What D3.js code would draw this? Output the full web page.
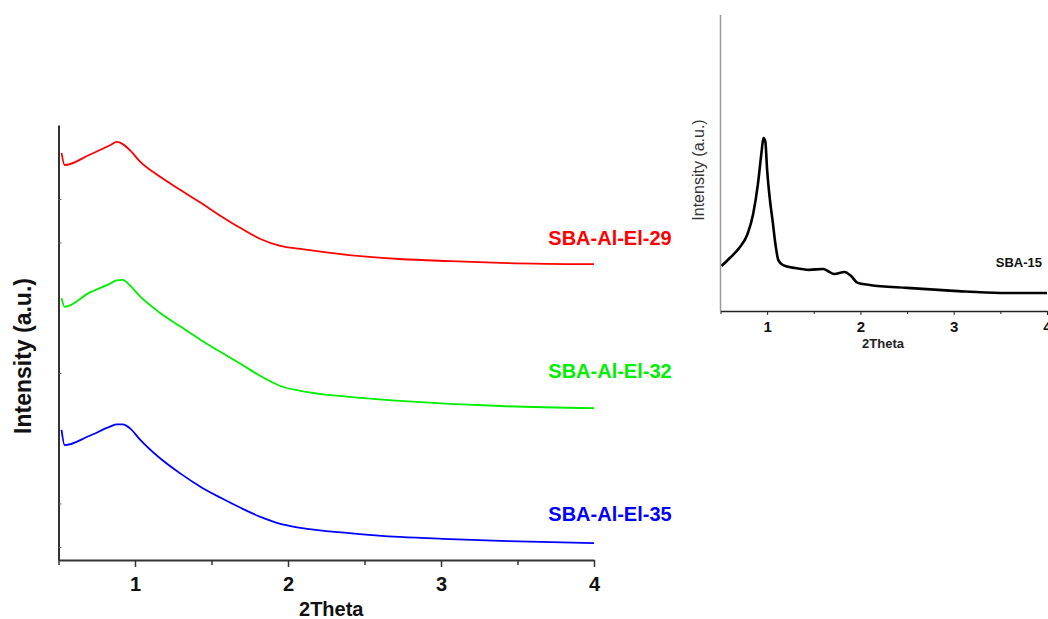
<!DOCTYPE html>
<html>
<head>
<meta charset="utf-8">
<script src="https://cdn.jsdelivr.net/npm/d3@7/dist/d3.min.js"></script>
<style>
  html, body { margin: 0; padding: 0; background: #fff; }
  svg { display: block; font-family: "Liberation Sans", Arial, Helvetica, sans-serif; }
</style>
</head>
<body>
<svg id="chart" width="1048" height="619"></svg>
<script>
// 2Theta positions shared by the three stacked patterns
const theta = [0.52, 0.54, 0.7, 0.84, 0.88, 0.92, 0.97, 1.03, 1.16, 1.3, 1.43, 1.56, 1.69, 1.82, 1.95, 2.08, 2.4, 2.73, 3.06, 3.39, 4.0];

// Stacked intensities (a.u., offset for display)
const ei29 = [9.36, 9.08, 9.31, 9.54, 9.61, 9.56, 9.41, 9.17, 8.82, 8.50, 8.21, 7.91, 7.63, 7.38, 7.22, 7.15, 7.01, 6.92, 6.87, 6.83, 6.80];
const ei32 = [6.02, 5.82, 6.14, 6.36, 6.43, 6.44, 6.30, 6.07, 5.69, 5.36, 5.06, 4.78, 4.51, 4.23, 4.00, 3.89, 3.75, 3.66, 3.59, 3.54, 3.49];
const ei35 = [2.99, 2.64, 2.85, 3.07, 3.12, 3.12, 3.02, 2.78, 2.35, 1.98, 1.68, 1.43, 1.20, 0.99, 0.83, 0.74, 0.62, 0.53, 0.48, 0.44, 0.39];

const seriesNames = ["SBA-Al-El-29", "SBA-Al-El-32", "SBA-Al-El-35"];
const seriesColors = ["#ff0000", "#00ee00", "#0000ff"];

// Parent SBA-15 pattern
const sbaTheta = [0.51, 0.6, 0.7, 0.79, 0.85, 0.9, 0.94, 0.96, 0.98, 1.0, 1.03, 1.06, 1.09, 1.12, 1.17, 1.3, 1.45, 1.6, 1.65, 1.72, 1.83, 1.9, 1.97, 2.1, 2.5, 3.0, 3.5, 4.0];
const sba15 = [1.52, 1.79, 2.13, 2.60, 3.28, 4.26, 5.37, 5.84, 5.74, 4.76, 3.75, 3.01, 2.23, 1.72, 1.55, 1.45, 1.39, 1.42, 1.35, 1.25, 1.32, 1.18, 0.95, 0.88, 0.78, 0.68, 0.61, 0.61];

const xMajor = [1, 2, 3, 4];
const xMinor = [0.5, 1.5, 2.5, 3.5];
const yTicks = [0.3, 1.3, 4.3, 7.3, 8.3];

const svg = d3.select("#chart");

// ---------- main panel ----------
const x = d3.scaleLinear().domain([0.5, 4]).range([58.5, 594]);
const y = d3.scaleLinear().domain([0, 10]).range([560, 125]);

const main = svg.append("g");

const line = d3.line().curve(d3.curveMonotoneX);
[ei29, ei32, ei35].forEach((ys, i) => {
  main.append("path")
    .attr("d", line(theta.map((t, j) => [x(t), y(ys[j])])))
    .attr("fill", "none")
    .attr("stroke", seriesColors[i])
    .attr("stroke-width", 1.8)
    .attr("stroke-linejoin", "round");
});

// axes
const axisColor = "#333";
const xAxis = main.append("g").attr("transform", `translate(0,${y(0)})`)
  .call(d3.axisBottom(x).tickValues(xMajor).tickSize(7).tickSizeOuter(0).tickFormat(d3.format("d")));
xAxis.select(".domain").attr("stroke", axisColor).attr("stroke-width", 2);
xAxis.selectAll(".tick line").attr("stroke", axisColor).attr("stroke-width", 1.5);
xAxis.selectAll(".tick text")
  .attr("fill", "#111").attr("font-size", 20).attr("font-weight", "bold").attr("dy", "1.05em");
const xMinorAxis = main.append("g").attr("transform", `translate(0,${y(0)})`)
  .call(d3.axisBottom(x).tickValues(xMinor).tickSize(5).tickFormat(""));
xMinorAxis.select(".domain").remove();
xMinorAxis.selectAll(".tick line").attr("stroke", axisColor).attr("stroke-width", 1.5);

const yAxis = main.append("g").attr("transform", `translate(${x(0.5)},0)`)
  .call(d3.axisRight(y).tickValues(yTicks).tickSize(3).tickSizeOuter(0).tickFormat(""));
yAxis.select(".domain").attr("stroke", axisColor).attr("stroke-width", 2);
yAxis.selectAll(".tick line").attr("stroke", "#666").attr("stroke-width", 1);

main.append("text")
  .attr("x", (x(0.5) + x(4)) / 2 + 5).attr("y", 616)
  .attr("text-anchor", "middle").attr("font-size", 20).attr("font-weight", "bold")
  .attr("fill", "#111").text("2Theta");

main.append("text")
  .attr("transform", "translate(31,356) rotate(-90)")
  .attr("text-anchor", "middle").attr("font-size", 23).attr("font-weight", "bold")
  .attr("fill", "#111").text("Intensity (a.u.)");

// sample labels beside each trace
const labelY = [245, 378, 521];
seriesNames.forEach((n, i) => {
  main.append("text")
    .attr("x", 610).attr("y", labelY[i])
    .attr("text-anchor", "middle").attr("font-size", 20).attr("font-weight", "bold")
    .attr("fill", seriesColors[i]).text(n);
});

// ---------- inset: SBA-15 ----------
const xi = d3.scaleLinear().domain([0.5, 4]).range([720.5, 1047]);
const yi = d3.scaleLinear().domain([0, 10]).range([311, 15]);
const inset = svg.append("g");

inset.append("path")
  .attr("d", d3.line().curve(d3.curveMonotoneX)(sbaTheta.map((t, j) => [xi(t), yi(sba15[j])])))
  .attr("fill", "none").attr("stroke", "#000").attr("stroke-width", 2.6)
  .attr("stroke-linejoin", "round");

inset.append("line")
  .attr("x1", xi(0.5)).attr("x2", xi(0.5)).attr("y1", yi(10)).attr("y2", yi(0))
  .attr("stroke", "#999").attr("stroke-width", 1.5);

const xiAxis = inset.append("g").attr("transform", `translate(0,${yi(0)})`)
  .call(d3.axisBottom(xi).tickValues(xMajor).tickSize(4).tickSizeOuter(0).tickFormat(d3.format("d")));
xiAxis.select(".domain").attr("stroke", "#222").attr("stroke-width", 1.5);
xiAxis.selectAll(".tick line").attr("stroke", "#222");
xiAxis.selectAll(".tick text")
  .attr("fill", "#111").attr("font-size", 15).attr("font-weight", "bold").attr("dy", "0.9em");
const xiMinor = inset.append("g").attr("transform", `translate(0,${yi(0)})`)
  .call(d3.axisBottom(xi).tickValues(xMinor).tickSize(3).tickFormat(""));
xiMinor.select(".domain").remove();
xiMinor.selectAll(".tick line").attr("stroke", "#222");

inset.append("text")
  .attr("x", 883).attr("y", 348)
  .attr("text-anchor", "middle").attr("font-size", 13).attr("font-weight", "bold")
  .attr("fill", "#222").text("2Theta");

inset.append("text")
  .attr("transform", "translate(704,170) rotate(-90)")
  .attr("text-anchor", "middle").attr("font-size", 16)
  .attr("fill", "#333").text("Intensity (a.u.)");

inset.append("text")
  .attr("x", 1042).attr("y", 267)
  .attr("text-anchor", "end").attr("font-size", 13).attr("font-weight", "bold")
  .attr("fill", "#111").text("SBA-15");
</script>
</body>
</html>
